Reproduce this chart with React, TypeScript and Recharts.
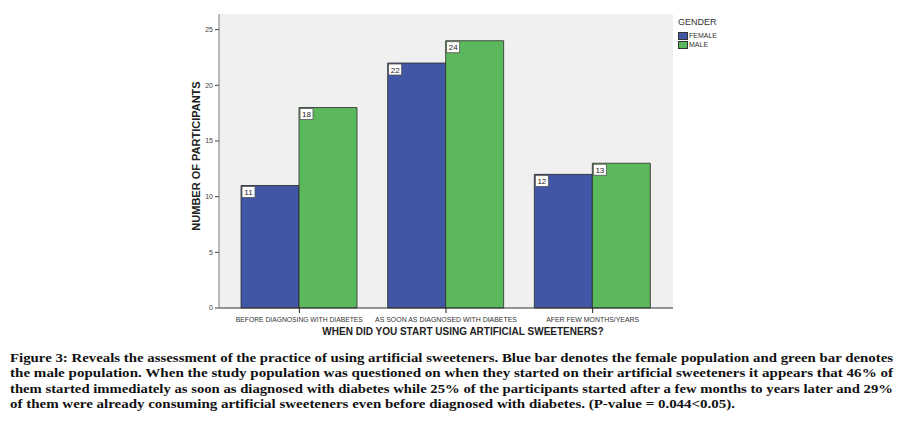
import React from 'react';
import {
  BarChart,
  Bar,
  XAxis,
  YAxis,
  CartesianGrid,
  LabelList,
} from 'recharts';

const categories = [
  'BEFORE DIAGNOSING WITH DIABETES',
  'AS SOON AS DIAGNOSED WITH DIABETES',
  'AFER FEW MONTHS/YEARS',
];
const categoryLabelWidths = [127, 142, 93];
const femaleValues = [11, 22, 12];
const maleValues = [18, 24, 13];
const yTicks = [0, 5, 10, 15, 20, 25];

const captionLines = [
  'Figure 3: Reveals the assessment of the practice of using artificial sweeteners. Blue bar denotes the female population and green bar denotes',
  'the male population. When the study population was questioned on when they started on their artificial sweeteners it appears that 46% of',
  'them started immediately as soon as diagnosed with diabetes while 25% of the participants started after a few months to years later and 29%',
  'of them were already consuming artificial sweeteners even before diagnosed with diabetes. (P-value = 0.044<0.05).',
];
const captionWidths = [883, 883, 883, 725];

const FEMALE = '#4157a5';
const MALE = '#5cb85c';
const BORDER = '#7a7a7a';
const SANS = 'Arial, Liberation Sans, sans-serif';

const data = categories.map((name, i) => ({
  name,
  female: femaleValues[i],
  male: maleValues[i],
}));

const ValueBox = (props: any) => {
  const { x, y, value } = props;
  const w = String(value).length > 1 ? 13 : 9;
  return (
    <g>
      <rect x={x + 1} y={y + 1} width={w} height={11} fill="#fff" stroke="#555" strokeWidth={0.8} />
      <text x={x + 1 + w / 2} y={y + 9.5} textAnchor="middle" fontSize={8} fontFamily={SANS} fill="#222">
        {value}
      </text>
    </g>
  );
};

const CategoryTick = (props: any) => {
  const { x, y, payload, index } = props;
  return (
    <text
      x={x}
      y={y + 7}
      textAnchor="middle"
      fontSize={7.5}
      fontFamily={SANS}
      fill="#333"
      textLength={categoryLabelWidths[index]}
      lengthAdjust="spacingAndGlyphs"
    >
      {payload.value}
    </text>
  );
};

export default function App() {
  return (
    <div style={{ position: 'absolute', left: 0, top: 0, width: 905, height: 428, background: '#fff' }}>
      <BarChart
        width={905}
        height={345}
        data={data}
        margin={{ top: 14, right: 232, left: 179, bottom: 7 }}
        barGap={0}
        barSize={58}
      >
        <CartesianGrid horizontal={false} vertical={false} fill="#f0f0f0" />
        <XAxis
          dataKey="name"
          xAxisId="bottom"
          padding={{ left: 7, right: 7 }}
          tickSize={5}
          height={30}
          tickLine={{ stroke: '#222' }}
          axisLine={{ stroke: '#333' }}
          tick={<CategoryTick />}
          interval={0}
          label={{
            content: () => (
              <text x={463} y={335} textAnchor="middle" fontSize={10} fontWeight="bold" fontFamily={SANS} fill="#222">
                WHEN DID YOU START USING ARTIFICIAL SWEETENERS?
              </text>
            ),
          }}
        />
        <XAxis dataKey="name" xAxisId="top" orientation="top" height={0} tick={false} tickLine={false} axisLine={{ stroke: BORDER }} />
        <YAxis
          yAxisId="left"
          width={40}
          domain={[0, 26.4]}
          ticks={yTicks}
          tickSize={4}
          tickLine={{ stroke: '#444' }}
          axisLine={{ stroke: BORDER }}
          tick={{ fontSize: 7, fill: '#444', fontFamily: SANS }}
          label={{
            content: () => (
              <text
                x={200}
                y={156}
                transform="rotate(-90 200 156)"
                textAnchor="middle"
                fontSize={11}
                fontWeight="bold"
                fontFamily={SANS}
                fill="#222"
              >
                NUMBER OF PARTICIPANTS
              </text>
            ),
          }}
        />
        <YAxis yAxisId="right" orientation="right" width={0} domain={[0, 26.4]} tick={false} tickLine={false} axisLine={{ stroke: BORDER }} />
        <Bar dataKey="female" xAxisId="bottom" yAxisId="left" fill={FEMALE} stroke="#2a2a2a" strokeWidth={0.8} isAnimationActive={false}>
          <LabelList dataKey="female" content={ValueBox} />
        </Bar>
        <Bar dataKey="male" xAxisId="bottom" yAxisId="left" fill={MALE} stroke="#2a2a2a" strokeWidth={0.8} isAnimationActive={false}>
          <LabelList dataKey="male" content={ValueBox} />
        </Bar>
      </BarChart>

      <div style={{ position: 'absolute', left: 678, top: 17, fontFamily: SANS, color: '#333' }}>
        <div style={{ fontSize: 9, lineHeight: '11px' }}>GENDER</div>
        <div style={{ display: 'flex', alignItems: 'center', fontSize: 7, lineHeight: '9px', marginTop: 3 }}>
          <span style={{ width: 8, height: 6, background: FEMALE, border: '1px solid #333', marginRight: 1 }} />
          FEMALE
        </div>
        <div style={{ display: 'flex', alignItems: 'center', fontSize: 7, lineHeight: '9px' }}>
          <span style={{ width: 8, height: 6, background: MALE, border: '1px solid #333', marginRight: 1 }} />
          MALE
        </div>
      </div>

      <svg style={{ position: 'absolute', left: 0, top: 345 }} width={905} height={83}>
        {captionLines.map((line, i) => (
          <text
            key={i}
            x={10}
            y={17 + i * 15.3}
            fontSize={13.5}
            fontWeight="bold"
            fontFamily="Liberation Serif, serif"
            fill="#111"
            textLength={captionWidths[i]}
            lengthAdjust="spacingAndGlyphs"
          >
            {line}
          </text>
        ))}
      </svg>
    </div>
  );
}
